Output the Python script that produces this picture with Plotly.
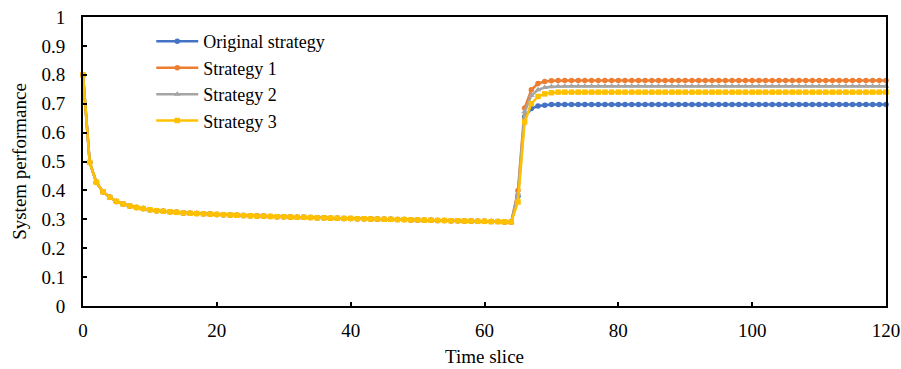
import plotly.graph_objects as go

time_slice = list(range(0, 121))

# Shared trajectory for t = 0..64 (all strategies identical before the recovery)
common = [0.800, 0.497, 0.428, 0.395, 0.376, 0.362, 0.353, 0.346, 0.341, 0.337,
          0.333, 0.330, 0.328, 0.326, 0.324, 0.322, 0.321, 0.320, 0.319, 0.318,
          0.317, 0.316, 0.315, 0.314, 0.313, 0.312, 0.311, 0.311, 0.310, 0.309,
          0.309, 0.308, 0.307, 0.307, 0.306, 0.305, 0.305, 0.304, 0.304, 0.303,
          0.303, 0.302, 0.302, 0.301, 0.301, 0.300, 0.300, 0.299, 0.299, 0.298,
          0.298, 0.297, 0.297, 0.296, 0.296, 0.295, 0.295, 0.294, 0.294, 0.293,
          0.293, 0.292, 0.292, 0.291, 0.291]

# Recovery part t = 65..120
original_tail = [0.380, 0.655, 0.683, 0.692, 0.695,
                 0.697, 0.697, 0.697, 0.697, 0.697, 0.697, 0.697, 0.697, 0.697, 0.697,
                 0.697, 0.697, 0.697, 0.697, 0.697, 0.697, 0.697, 0.697, 0.697, 0.697,
                 0.697, 0.697, 0.697, 0.697, 0.697, 0.697, 0.697, 0.697, 0.697, 0.697,
                 0.697, 0.697, 0.697, 0.697, 0.697, 0.697, 0.697, 0.697, 0.697, 0.697,
                 0.697, 0.697, 0.697, 0.697, 0.697, 0.697, 0.697, 0.697, 0.697, 0.697,
                 0.697]
strategy1_tail = [0.400, 0.685, 0.748, 0.770, 0.777,
                  0.779, 0.780, 0.780, 0.780, 0.780, 0.780, 0.780, 0.780, 0.780, 0.780,
                  0.780, 0.780, 0.780, 0.780, 0.780, 0.780, 0.780, 0.780, 0.780, 0.780,
                  0.780, 0.780, 0.780, 0.780, 0.780, 0.780, 0.780, 0.780, 0.780, 0.780,
                  0.780, 0.780, 0.780, 0.780, 0.780, 0.780, 0.780, 0.780, 0.780, 0.780,
                  0.780, 0.780, 0.780, 0.780, 0.780, 0.780, 0.780, 0.780, 0.780, 0.780,
                  0.780]
strategy2_tail = [0.390, 0.672, 0.728, 0.748, 0.756,
                  0.759, 0.760, 0.760, 0.760, 0.760, 0.760, 0.760, 0.760, 0.760, 0.760,
                  0.760, 0.760, 0.760, 0.760, 0.760, 0.760, 0.760, 0.760, 0.760, 0.760,
                  0.760, 0.760, 0.760, 0.760, 0.760, 0.760, 0.760, 0.760, 0.760, 0.760,
                  0.760, 0.760, 0.760, 0.760, 0.760, 0.760, 0.760, 0.760, 0.760, 0.760,
                  0.760, 0.760, 0.760, 0.760, 0.760, 0.760, 0.760, 0.760, 0.760, 0.760,
                  0.760]
strategy3_tail = [0.360, 0.637, 0.700, 0.725, 0.734,
                  0.738, 0.740, 0.740, 0.740, 0.740, 0.740, 0.740, 0.740, 0.740, 0.740,
                  0.740, 0.740, 0.740, 0.740, 0.740, 0.740, 0.740, 0.740, 0.740, 0.740,
                  0.740, 0.740, 0.740, 0.740, 0.740, 0.740, 0.740, 0.740, 0.740, 0.740,
                  0.740, 0.740, 0.740, 0.740, 0.740, 0.740, 0.740, 0.740, 0.740, 0.740,
                  0.740, 0.740, 0.740, 0.740, 0.740, 0.740, 0.740, 0.740, 0.740, 0.740,
                  0.740]

series_names = ["Original strategy", "Strategy 1", "Strategy 2", "Strategy 3"]
series_values = [common + original_tail, common + strategy1_tail,
                 common + strategy2_tail, common + strategy3_tail]
colors = ["#4472C4", "#ED7D31", "#A5A5A5", "#FFC000"]
symbols = ["circle", "circle", "triangle-up", "square"]
sizes = [5.5, 5.5, 6, 5.5]

x_ticks = [0, 20, 40, 60, 80, 100, 120]
y_ticks = [0, 0.1, 0.2, 0.3, 0.4, 0.5, 0.6, 0.7, 0.8, 0.9, 1]

fig = go.Figure()
for name, vals, c, s, sz in zip(series_names, series_values, colors, symbols, sizes):
    fig.add_trace(go.Scatter(
        x=time_slice, y=vals, name=name, mode="lines+markers",
        line=dict(color=c, width=2.5),
        marker=dict(color=c, symbol=s, size=sz),
        cliponaxis=False,
    ))

font_family = "Liberation Serif, Times New Roman, serif"
fig.update_layout(
    width=901, height=369,
    margin=dict(l=83, r=15, t=17, b=63, autoexpand=False),
    paper_bgcolor="white", plot_bgcolor="white",
    font=dict(family=font_family, size=19, color="black"),
    showlegend=True,
    legend=dict(x=0.085, y=0.778, xanchor="left", yanchor="middle",
                bgcolor="rgba(0,0,0,0)", font=dict(size=18, family=font_family),
                itemwidth=42, tracegroupgap=0),
    xaxis=dict(range=[0, 120], tickvals=x_ticks, ticks="inside", ticklen=4,
               tickwidth=1.5, tickcolor="black", automargin=False,
               ticklabelstandoff=6,
               showline=True, linecolor="black", linewidth=2, mirror=True,
               showgrid=False, zeroline=False,
               title=dict(text="Time slice", font=dict(size=19), standoff=10)),
    yaxis=dict(range=[0, 1], tickvals=y_ticks, ticks="inside", ticklen=4,
               tickwidth=1.5, tickcolor="black", automargin=False,
               ticklabelstandoff=12,
               showline=True, linecolor="black", linewidth=2, mirror=True,
               showgrid=False, zeroline=False,
               title=dict(text="System performance", font=dict(size=19), standoff=10)),
)

fig.write_html("out.html")
